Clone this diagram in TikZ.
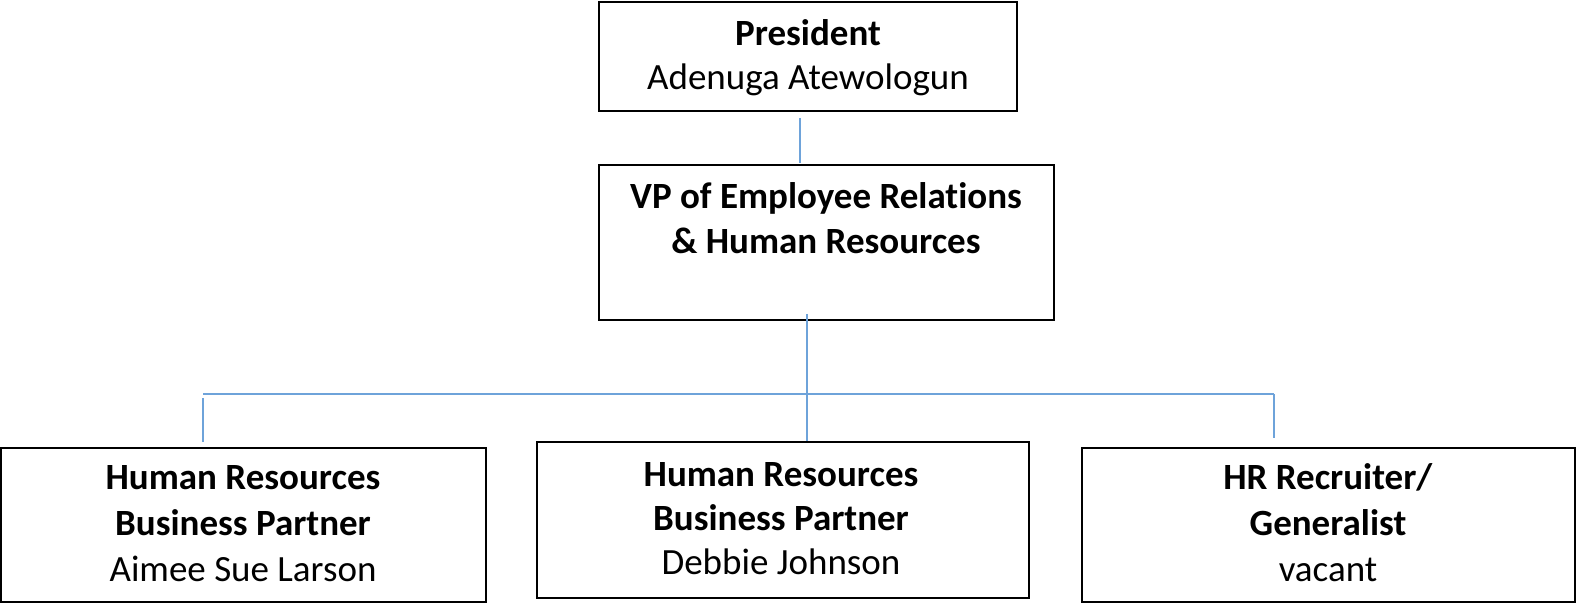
\documentclass[tikz,border=0pt]{standalone}
\usepackage{fontspec}
\setmainfont{Carlito}[Ligatures={NoCommon}]
\definecolor{conncol}{RGB}{110,163,218}
\tikzset{
  box/.style={draw=black, line width=1pt, inner sep=0pt, rectangle},
  txt/.style={align=center, anchor=base, inner sep=0pt, font=\fontsize{18.5pt}{22pt}\selectfont},
  txtb/.style={txt, font=\fontsize{18.5pt}{23pt}\selectfont},
  conn/.style={draw=conncol, line width=0.55pt}
}
\begin{document}
\begin{tikzpicture}[x=0.5pt,y=-0.5pt]
\useasboundingbox (0,0) rectangle (1576,603);
% boxes
\node[box, minimum width=209pt, minimum height=54.5pt] (pres) at (808,56.5) {};
\node[box, minimum width=227.5pt, minimum height=77.5pt] (vp) at (826.5,242.5) {};
\node[box, minimum width=242.5pt, minimum height=77pt] (b1) at (243.5,525) {};
\node[box, minimum width=246pt, minimum height=78pt] (b2) at (783,520) {};
\node[box, minimum width=246.5pt, minimum height=77pt] (b3) at (1328.5,525) {};
% texts (anchored at last baseline)
\node[txt] (prest) at (808,90) {\textbf{President}\\Adenuga Atewologun};
\node[txt, font=\fontsize{18.5pt}{22.5pt}\selectfont] (vpt) at (826,254) {\textbf{VP of Employee Relations}\\\textbf{\& Human Resources}};
\node[txtb] (b1t) at (243,582) {\textbf{Human Resources}\\\textbf{Business Partner}\\Aimee Sue Larson};
\node[txt] (b2t) at (781,575) {\textbf{Human Resources}\\\textbf{Business Partner}\\Debbie Johnson};
\node[txtb] (b3t) at (1328,582) {\textbf{HR Recruiter/}\\\textbf{Generalist}\\vacant};
% connector points
\coordinate (p1) at (800,118);
\coordinate (p2) at (800,163);
\coordinate (v1) at (807,314);
\coordinate (v2) at (807,441);
\coordinate (hl) at (203,394);
\coordinate (l2) at (203,442);
\coordinate (hr) at (1274,394);
\coordinate (r2) at (1274,438);
\draw[conn] (p1) -- (p2);
\draw[conn] (v1) -- (v2);
\draw[conn] (hl) -- (hr);
\draw[conn] ([yshift=-2pt]hl) -- (l2);
\draw[conn] (hr) -- (r2);
\end{tikzpicture}
\end{document}
